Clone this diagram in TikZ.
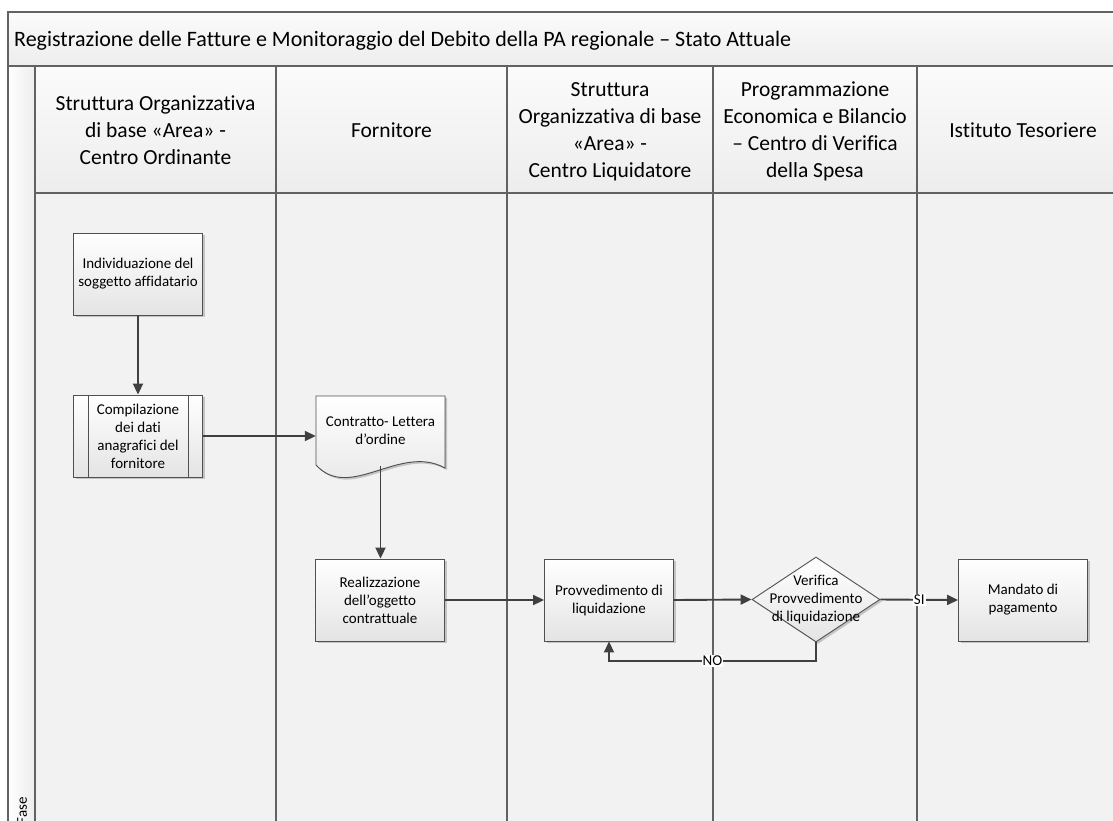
\documentclass[tikz,border=0pt]{standalone}
\usepackage{fontspec}
\setmainfont{Carlito}[Ligatures=NoCommon]
\usetikzlibrary{shapes.geometric,arrows.meta,shadows}
\definecolor{lanebd}{HTML}{626262}
\definecolor{connc}{HTML}{404040}
\definecolor{boxbd}{HTML}{505050}
\definecolor{boxbot}{HTML}{E4E4E4}
\definecolor{bodyc}{HTML}{F2F2F2}
\definecolor{headtop}{HTML}{FBFBFB}
\definecolor{headbot}{HTML}{EDEDED}
\tikzset{
  lane/.style={draw=lanebd, line width=1.3pt},
  shad/.style={drop shadow={shadow xshift=2pt, shadow yshift=-2pt, fill=black!45, opacity=0.45}},
  proc/.style={draw=boxbd, line width=0.9pt, top color=white, bottom color=boxbot,
    minimum width=129pt, minimum height=82pt, inner sep=0pt, align=center,
    font=\fontsize{15}{18}\selectfont, shad},
  btext/.style={align=center, inner sep=0pt, font=\fontsize{15}{18}\selectfont},
  htext/.style={align=center, inner sep=0pt, font=\fontsize{21.5}{27}\selectfont},
  conn/.style={draw=connc, line width=1.9pt, -{Triangle[length=11pt,width=10pt]}},
  lab/.style={fill=white, inner sep=1pt, font=\fontsize{15}{16}\selectfont},
}
\begin{document}
\begin{tikzpicture}[x=1pt,y=-1pt]
\clip (0,0) rectangle (1113,820);
\fill[white] (0,0) rectangle (1113,820);
% title band
\fill[top color=headtop, bottom color=headbot] (8,12) rectangle (1130,66);
% phase column
\fill[left color=white, right color=headbot] (8,66) rectangle (35,830);
% header cells
\fill[top color=headtop, bottom color=headbot] (35,66) rectangle (1130,193);
% body
\fill[bodyc] (35,193) rectangle (1130,830);
% borders
\draw[lane] (1130,12) -- (8,12) -- (8,830);
\draw[lane] (8,66) -- (1130,66);
\draw[lane] (35,193) -- (1130,193);
\foreach \xx in {35,276,507,713,917} \draw[lane] (\xx,66) -- (\xx,830);
% title
\node[anchor=west, inner sep=0pt, font=\fontsize{22}{26}\selectfont] (title) at (14,41) {Registrazione delle Fatture e Monitoraggio del Debito della PA regionale – Stato Attuale};
\node[rotate=90, anchor=east, inner sep=0pt, font=\fontsize{15}{18}\selectfont] (fase) at (22,797) {Fase};
% header texts
\node[htext] (h1) at (155.5,130) {Struttura Organizzativa\\di base «Area» -\\Centro Ordinante};
\node[htext] (h2) at (391.5,130) {Fornitore};
\node[htext] (h3) at (610,131.5) {Struttura\\Organizzativa di base\\«Area» -\\Centro Liquidatore};
\node[htext] (h4) at (815,131.5) {Programmazione\\Economica e Bilancio\\– Centro di Verifica\\della Spesa};
\node[htext] (h5) at (1023,130) {Istituto Tesoriere};
% process nodes
\node[proc] (b1) at (138,274) {Individuazione del\\soggetto affidatario};
\node[proc] (b2) at (138,436) {Compilazione\\dei dati\\anagrafici del\\fornitore};
\draw[boxbd, line width=0.9pt] ([xshift=15pt]b2.north west) -- ([xshift=15pt]b2.south west);
\draw[boxbd, line width=0.9pt] ([xshift=-15pt]b2.north east) -- ([xshift=-15pt]b2.south east);
% document shape
\filldraw[draw=boxbd, line width=0.9pt, top color=white, bottom color=boxbot, shad]
  (316,396) -- (445,396) -- (445,468) .. controls (400,443) and (350,502) .. (316,465) -- cycle;
\node[btext, minimum width=129pt, minimum height=70pt] (doc) at (380.5,431) {Contratto- Lettera\\d’ordine};
\node[proc] (b3) at (380,600) {Realizzazione\\dell’oggetto\\contrattuale};
\node[proc] (b4) at (609,600) {Provvedimento di\\liquidazione};
\node[diamond, draw=boxbd, line width=0.9pt, top color=white, bottom color=boxbot, shad,
  minimum width=128pt, minimum height=85pt, inner sep=0pt] (dia) at (816,599.5) {};
\node[btext] (diat) at (816,599.5) {Verifica\\Provvedimento\\di liquidazione};
\node[proc] (b5) at (1023,600) {Mandato di\\pagamento};
% connectors
\draw[conn] (b1) -- (b2);
\draw[conn] (b2.east) -- (b2.east -| doc.west);
\draw[conn] (doc.south) -- (doc.south |- b3.north);
\draw[conn] (b3) -- (b4);
\draw[conn] (b4.east) -- (dia.west);
\draw[conn] (dia.east) -- node[lab]{SI} (b5.west);
\coordinate (noc) at (816,661);
\draw[conn] (dia.south) -- (noc) -- node[lab]{NO} (b4.south |- noc) -- (b4.south);
\end{tikzpicture}
\end{document}
